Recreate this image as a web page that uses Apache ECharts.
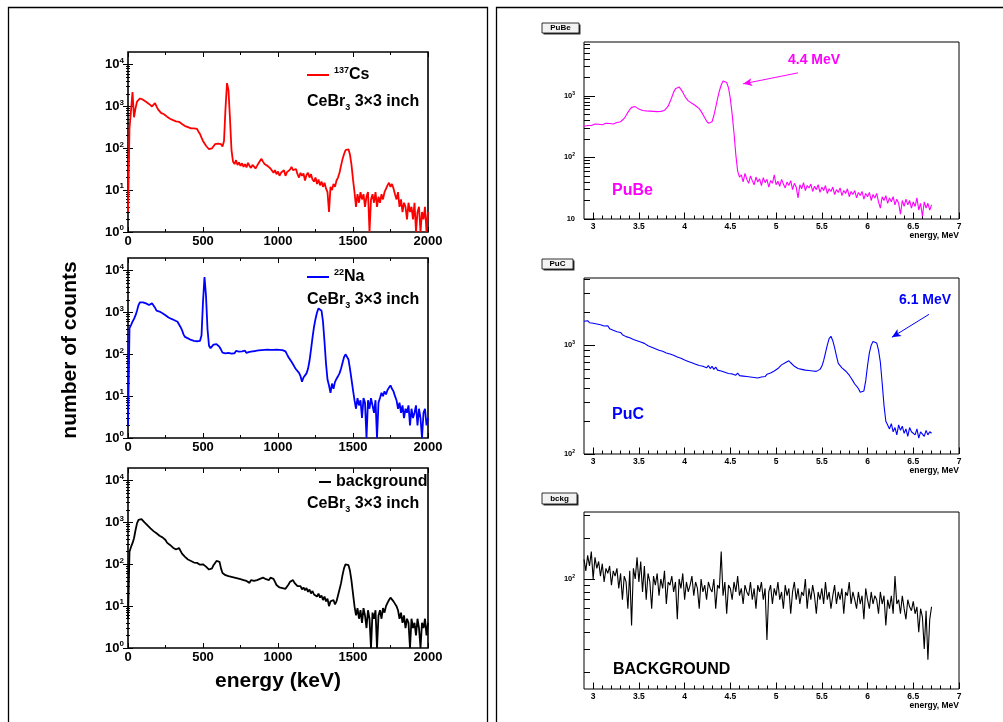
<!DOCTYPE html>
<html>
<head>
<meta charset="utf-8">
<script src="https://cdn.jsdelivr.net/npm/echarts@6.0.0/dist/echarts.min.js"></script>
<style>
  html, body { margin: 0; padding: 0; background: #fff; }
  #chart { width: 1003px; height: 722px; }
</style>
</head>
<body>
<div id="chart"></div>
<script>
const chart = echarts.init(document.getElementById('chart'));
const FONT = '"Liberation Sans", Arial, sans-serif';

// Left column: CeBr3 spectra, one value per 10 keV bin, 0 .. 2000 keV
const keVBinWidth = 10;
const cs137Counts = [
  3, 300, 800, 2200, 550, 900, 1300, 1450, 1550, 1500,
  1450, 1400, 1300, 1250, 1150, 1050, 1000, 1100, 1200, 1000,
  850, 780, 700, 720, 650, 600, 570, 540, 510, 490,
  470, 450, 440, 420, 430, 400, 380, 360, 340, 330,
  320, 310, 300, 310, 300, 320, 290, 250, 220, 180,
  150, 135, 115, 105, 95, 88, 100, 110, 125, 115,
  130, 120, 125, 110, 150, 900, 3600, 2400, 500, 90,
  48, 42, 52, 40, 46, 38, 44, 36, 42, 35,
  45, 38, 34, 40, 37, 33, 38, 44, 50, 56,
  48, 42, 45, 38, 40, 33, 30, 26, 30, 24,
  28, 22, 26, 24, 30, 22, 27, 25, 31, 36,
  30, 28, 32, 24, 20, 26, 22, 25, 17, 23,
  26, 20, 24, 18, 16, 20, 14, 18, 13, 16,
  12, 15, 11, 9, 3, 12, 10, 14, 12, 17,
  20, 26, 38, 55, 72, 90, 100, 95, 70, 40,
  18, 9, 4, 8, 5, 9, 6, 8, 4, 7,
  9, 1, 6, 8, 5, 9, 4, 7, 5, 8,
  6, 9, 10, 13, 15, 12, 14, 11, 8, 6,
  9, 4, 6, 3, 5, 4, 2, 5, 3, 4,
  2, 5, 1, 3, 4, 1, 3, 2, 4, 1,
  3
];
const na22Counts = [
  2, 420, 500, 600, 700, 850, 1100, 1500, 1750, 1800,
  1750, 1700, 1650, 1600, 1500, 1450, 1650, 1800, 1300, 1100,
  1080, 1050, 1000, 960, 920, 860, 800, 760, 720, 700,
  680, 650, 620, 600, 540, 450, 380, 300, 260, 250,
  240, 230, 220, 215, 210, 200, 205, 195, 210, 280,
  1800, 7000, 2500, 400, 160, 140, 150, 170, 180, 175,
  160, 150, 130, 110, 120, 105, 115, 108, 118, 104,
  112, 106, 120, 110, 116, 105, 118, 112, 122, 108,
  118, 114, 125, 118, 128, 120, 130, 124, 132, 126,
  135, 128, 138, 130, 136, 128, 134, 127, 135, 130,
  133, 128, 132, 126, 125, 118, 100, 85, 75, 66,
  58, 50, 44, 40, 36, 30, 22, 28, 30, 35,
  45, 70, 130, 250, 450, 700, 1000, 1250, 1300, 1100,
  600, 200, 60, 25, 18, 12, 20, 15, 22, 26,
  30, 35, 45, 62, 85, 100, 95, 75, 45, 25,
  14, 8, 5, 9, 6, 8, 3, 9, 7, 1,
  8, 5, 9, 6, 4, 8, 1, 7, 9, 12,
  10, 13, 11, 14, 16, 18, 15, 13, 10, 8,
  5, 7, 4, 6, 3, 5, 4, 6, 2, 5,
  3, 4, 6, 2, 5, 3, 1, 4, 5, 2,
  3
];
const bkgCounts = [
  5, 200, 260, 320, 420, 650, 950, 1150, 1250, 1200,
  1100, 1000, 930, 850, 780, 720, 680, 620, 580, 550,
  510, 480, 460, 440, 460, 380, 330, 310, 290, 270,
  250, 235, 225, 230, 245, 220, 180, 165, 150, 140,
  130, 125, 120, 118, 110, 105, 108, 100, 98, 95,
  100, 92, 88, 85, 75, 70, 80, 95, 105, 120,
  125, 115, 80, 62, 58, 55, 60, 52, 56, 50,
  54, 48, 52, 46, 50, 44, 48, 42, 45, 40,
  44, 36, 42, 38, 40, 37, 42, 40, 45, 50,
  48, 52, 44, 40, 42, 48, 50, 45, 38, 32,
  30, 28, 31, 27, 30, 26, 29, 33, 38, 40,
  42, 36, 33, 30, 28, 30, 25, 28, 24, 27,
  22, 25, 20, 23, 19, 21, 17, 20, 16, 18,
  14, 17, 13, 15, 10, 13, 12, 14, 11, 13,
  18, 25, 35, 55, 80, 100, 108, 95, 70, 40,
  20, 10, 6, 9, 5, 8, 4, 9, 6, 3,
  8, 5, 1, 7, 5, 8, 1, 6, 8, 5,
  9, 7, 10, 12, 14, 16, 15, 13, 14, 10,
  8, 5, 7, 4, 6, 3, 5, 4, 1, 5,
  3, 4, 2, 5, 3, 1, 4, 3, 5, 2,
  4
];

// Right column: one value per 0.02 MeV bin, 2.90 .. 6.70 MeV
const mevStart = 2.9;
const mevBinWidth = 0.02;
const pubeCounts = [
  320, 335, 330, 345, 330, 340, 350, 335, 345, 355,
  340, 350, 360, 345, 355, 365, 350, 360, 370, 375,
  380, 400, 430, 480, 540, 600, 650, 680, 670, 640,
  610, 600, 580, 590, 570, 580, 565, 575, 560, 570,
  555, 565, 560, 570, 580, 600, 680, 800, 950, 1150,
  1300, 1380, 1400, 1320, 1150, 1000, 900, 830, 790, 760,
  720, 690, 660, 620, 560, 500, 440, 390, 360, 345,
  380, 480, 650, 900, 1200, 1500, 1750, 1800, 1650, 1350,
  900, 500, 250, 110, 60, 48, 52, 40, 55, 44,
  38, 50, 42, 36, 48, 40, 45, 35, 47, 39,
  44, 33, 42, 38, 52, 36, 41, 34, 44, 37,
  32, 40, 35, 42, 30, 38, 33, 22, 36, 31,
  39, 29, 35, 32, 37, 28, 34, 30, 36, 27,
  33, 29, 35, 26, 31, 28, 33, 25, 30, 27,
  32, 24, 29, 26, 31, 23, 28, 25, 29, 22,
  27, 24, 28, 21, 26, 23, 27, 20, 25, 22,
  26, 19, 15, 23, 20, 24, 18, 22, 19, 23,
  17, 21, 18, 12, 20, 16, 21, 17, 20, 15,
  19, 16, 22, 14, 18, 11, 19, 15, 18, 14,
  17
];
const pucCounts = [
  1660, 1620, 1680, 1610, 1650, 1590, 1630, 1570, 1600, 1540,
  1560, 1500, 1480, 1510, 1420, 1450, 1370, 1400, 1330, 1300,
  1310, 1250, 1270, 1200, 1230, 1170, 1190, 1130, 1150, 1100,
  1120, 1070, 1090, 1040, 1050, 990, 1010, 960, 980, 930,
  950, 900, 920, 880, 890, 850, 870, 830, 850, 810,
  820, 780, 800, 760, 770, 730, 750, 710, 720, 690,
  700, 670, 690, 650, 670, 640, 660, 620, 650, 610,
  640, 600, 630, 590, 610, 580, 600, 565, 580, 550,
  570, 545, 560, 530, 555, 525, 545, 520, 540, 515,
  535, 510, 530, 505, 525, 500, 520, 510, 530, 515,
  540, 530, 555, 550, 580, 575, 610, 630, 660, 680,
  690, 710, 720, 690, 670, 640, 630, 610, 620, 600,
  610, 590, 605, 585, 600, 580, 595, 575, 590, 600,
  640, 720, 850, 1000, 1150, 1210, 1100, 950, 800, 680,
  660, 620, 600, 580, 560, 530, 500, 470, 440, 420,
  400, 370, 355, 380, 470, 650, 850, 1000, 1080, 1110,
  1050, 900, 700, 450, 280, 200, 185, 170, 190, 160,
  175, 150, 185, 165, 180, 155, 170, 145, 175, 160,
  165, 150, 170, 140, 160, 155, 145, 165, 150, 160,
  155
];
const bckgCounts = [
  140, 115, 150, 125, 160, 100, 145, 120, 135, 105,
  130, 95, 120, 110, 125, 90, 115, 105, 120, 85,
  110, 70, 105, 95, 60, 115, 45, 120, 100, 145,
  95, 135, 80, 125, 70, 110, 95, 60, 105, 90,
  110, 75, 100, 85, 115, 65, 95, 90, 105, 80,
  95, 50, 100, 85, 110, 70, 95, 80, 90, 105,
  75, 95, 85, 60, 100, 80, 90, 70, 95, 85,
  80, 100, 60, 90, 85, 160, 75, 95, 55, 90,
  85, 70, 95, 80, 105, 75, 85, 65, 90, 80,
  75, 95, 70, 85, 60, 90, 80, 95, 70, 85,
  35, 80, 90, 65, 85, 75, 95, 70, 80, 60,
  90, 75, 85, 55, 80, 95, 70, 85, 65, 80,
  75, 100, 60, 85, 70, 90, 75, 55, 80, 70,
  85, 65, 95, 70, 80, 60, 75, 90, 65, 80,
  70, 85, 55, 80, 75, 95, 65, 80, 70, 60,
  80, 65, 75, 50, 85, 70, 60, 80, 65, 75,
  70, 55, 80, 65, 75, 45, 70, 60, 75, 55,
  105, 65, 70, 55, 75, 60, 50, 70, 62, 58,
  68, 55, 62, 40, 60, 52, 30, 58, 25, 50,
  62
];

// Tick positions and labels
const keVTicks = [0, 500, 1000, 1500, 2000];
const keVMinorTicks = [250, 750, 1250, 1750];
const leftDecades = [1, 10, 100, 1000, 10000];
const mevTicks = [3, 3.5, 4, 4.5, 5, 5.5, 6, 6.5, 7];
const mevMinorTicks = [3.1, 3.2, 3.3, 3.4, 3.6, 3.7, 3.8, 3.9, 4.1, 4.2, 4.3, 4.4,
  4.6, 4.7, 4.8, 4.9, 5.1, 5.2, 5.3, 5.4, 5.6, 5.7, 5.8, 5.9, 6.1, 6.2, 6.3, 6.4,
  6.6, 6.7, 6.8, 6.9];

// 2..9 times each decade, used for the minor ticks of log axes
function logMinors(lo, hi) {
  const out = [];
  for (let d = 1; d < hi; d *= 10) {
    for (let k = 2; k <= 9; k++) {
      const v = k * d;
      if (v > lo && v < hi) out.push(v);
    }
  }
  return out;
}

function bins(counts, start, step) {
  return counts.map((c, i) => [+(start + i * step).toFixed(3), c]);
}

function powLabel(v, plainTen) {
  const e = Math.round(Math.log10(v));
  if (plainTen && e === 1) return '{b|10}';
  return '{b|10}{s|' + e + '}';
}

const grids = [];
const xAxes = [];
const yAxes = [];
const series = [];

function addPanel(p) {
  const gi = grids.length;
  grids.push({
    left: p.left, top: p.top, width: p.width, height: p.height,
    show: true, borderColor: '#000', borderWidth: p.border, backgroundColor: 'transparent'
  });

  const xIndex = xAxes.length;
  const yIndex = yAxes.length;
  const xSides = p.mirror ? ['bottom', 'top'] : ['bottom'];
  const ySides = p.mirror ? ['left', 'right'] : ['left'];
  const tickStyle = { color: '#000', width: 1 };

  xSides.forEach((side, s) => {
    xAxes.push({
      gridIndex: gi, type: 'value', position: side, min: p.xMin, max: p.xMax,
      axisLine: { show: false }, splitLine: { show: false },
      axisTick: { inside: true, length: p.xMajor, customValues: p.xTicks, lineStyle: tickStyle },
      axisLabel: s === 0 ? Object.assign({ customValues: p.xTicks, formatter: (v) => String(v) }, p.xLabel) : { show: false }
    });
    xAxes.push({
      gridIndex: gi, type: 'value', position: side, min: p.xMin, max: p.xMax,
      axisLine: { show: false }, splitLine: { show: false },
      axisTick: { inside: true, length: p.xMinor, customValues: p.xMinorTicks, lineStyle: tickStyle },
      axisLabel: { show: false }
    });
  });

  ySides.forEach((side, s) => {
    yAxes.push({
      gridIndex: gi, type: 'log', logBase: 10, position: side, min: p.yMin, max: p.yMax,
      axisLine: { show: false }, splitLine: { show: false },
      axisTick: { inside: true, length: p.yMajor, customValues: p.yTicks, lineStyle: tickStyle },
      axisLabel: s === 0 ? Object.assign({ customValues: p.yTicks }, p.yLabel) : { show: false }
    });
    yAxes.push({
      gridIndex: gi, type: 'log', logBase: 10, position: side, min: p.yMin, max: p.yMax,
      axisLine: { show: false }, splitLine: { show: false },
      axisTick: { inside: true, length: p.yMinor, customValues: logMinors(p.yMin, p.yMax), lineStyle: tickStyle },
      axisLabel: { show: false }
    });
  });

  const s = {
    name: p.name, type: 'line', xAxisIndex: xIndex, yAxisIndex: yIndex,
    data: p.data, showSymbol: false, symbol: 'none', clip: true, silent: true,
    lineStyle: { color: p.color, width: p.lineWidth }, itemStyle: { color: p.color }
  };
  if (p.arrow) {
    s.markLine = {
      silent: true, symbol: ['none', 'arrow'], symbolSize: [6, 9],
      lineStyle: { color: p.color, width: 1, type: 'solid' }, label: { show: false },
      data: [[{ coord: p.arrow[0] }, { coord: p.arrow[1] }]]
    };
  }
  series.push(s);
}

// Left column axis styling
const leftXLabel = { fontFamily: FONT, fontSize: 13, fontWeight: 'bold', color: '#000', margin: 3 };
const leftYLabel = {
  margin: 4, formatter: (v) => powLabel(v, false),
  rich: {
    b: { fontFamily: FONT, fontSize: 13, fontWeight: 'bold', color: '#000', lineHeight: 16 },
    s: { fontFamily: FONT, fontSize: 8, fontWeight: 'bold', color: '#000', verticalAlign: 'top' }
  }
};
const leftCommon = {
  left: 128, width: 300, height: 180, border: 1.6, mirror: true,
  xMin: 0, xMax: 2000, xTicks: keVTicks, xMinorTicks: keVMinorTicks, xMajor: 5, xMinor: 3,
  yMin: 1, yMax: 20000, yTicks: leftDecades, yMajor: 5, yMinor: 2,
  xLabel: leftXLabel, yLabel: leftYLabel, lineWidth: 1.8
};

addPanel(Object.assign({}, leftCommon, { top: 52, name: 'cs137', color: '#ff0000', data: bins(cs137Counts, 0, keVBinWidth) }));
addPanel(Object.assign({}, leftCommon, { top: 258, name: 'na22', color: '#0000ff', data: bins(na22Counts, 0, keVBinWidth) }));
addPanel(Object.assign({}, leftCommon, { top: 468, name: 'background', color: '#000000', data: bins(bkgCounts, 0, keVBinWidth) }));

// Right column (ROOT style) axis styling
const rightXLabel = { fontFamily: FONT, fontSize: 8.5, fontWeight: 'bold', color: '#000', margin: 3 };
const rightYLabel = {
  margin: 9, formatter: (v) => powLabel(v, true),
  rich: {
    b: { fontFamily: FONT, fontSize: 7.5, fontWeight: 'bold', color: '#000', lineHeight: 10 },
    s: { fontFamily: FONT, fontSize: 5, fontWeight: 'bold', color: '#000', verticalAlign: 'top' }
  }
};
const rightCommon = {
  left: 584, width: 375, border: 1, mirror: false,
  xMin: 2.9, xMax: 7, xTicks: mevTicks, xMinorTicks: mevMinorTicks, xMajor: 6.5, xMinor: 3.5,
  yMajor: 11, yMinor: 6, xLabel: rightXLabel, yLabel: rightYLabel, lineWidth: 1.1
};

addPanel(Object.assign({}, rightCommon, {
  top: 42, height: 177, yMin: 10, yMax: 7500, yTicks: [10, 100, 1000],
  name: 'PuBe', color: '#ff00ff', data: bins(pubeCounts, mevStart, mevBinWidth),
  arrow: [[5.24, 2365], [4.64, 1567]]
}));
addPanel(Object.assign({}, rightCommon, {
  top: 278, height: 176, yMin: 100, yMax: 4150, yTicks: [100, 1000],
  name: 'PuC', color: '#0000ff', data: bins(pucCounts, mevStart, mevBinWidth),
  arrow: [[6.672, 1923], [6.267, 1184]]
}));
addPanel(Object.assign({}, rightCommon, {
  top: 512, height: 177, yMin: 15.1, yMax: 316, yTicks: [100],
  name: 'bckg', color: '#000000', data: bins(bckgCounts, mevStart, mevBinWidth)
}));

// Legends of the left column
const legendRich = {
  s: { fontFamily: FONT, fontSize: 9, fontWeight: 'bold', color: '#000', verticalAlign: 'top' },
  b: { fontFamily: FONT, fontSize: 16, fontWeight: 'bold', color: '#000', lineHeight: 18 }
};
const legendLabels = { cs137: '{s|137}{b|Cs}', na22: '{s|22}{b|Na}', background: '{b|background}' };
function legendAt(name, left, top, itemWidth) {
  return {
    data: [name], left: left, top: top, padding: 0, icon: 'rect',
    itemWidth: itemWidth, itemHeight: 2, itemGap: 0, selectedMode: false,
    formatter: (n) => legendLabels[n], textStyle: { rich: legendRich }
  };
}

const ceBr = '{b|CeBr}{sub|3}{b| 3×3 inch}';
const ceBrRich = {
  b: { fontFamily: FONT, fontSize: 16, fontWeight: 'bold', fill: '#000', lineHeight: 20 },
  sub: { fontFamily: FONT, fontSize: 9, fontWeight: 'bold', fill: '#000', verticalAlign: 'bottom' }
};

function text(x, y, t, size, color, align) {
  return {
    type: 'text', x: x, y: y, silent: true,
    style: { text: t, fontFamily: FONT, fontSize: size, fontWeight: 'bold', fill: color, align: align || 'left', verticalAlign: 'middle' }
  };
}
function tagBox(x, y, w, h, label) {
  return {
    type: 'group', x: x, y: y, silent: true,
    children: [
      { type: 'rect', shape: { x: 1.5, y: 1.5, width: w, height: h }, style: { fill: '#333' } },
      { type: 'rect', shape: { x: 0, y: 0, width: w, height: h }, style: { fill: '#f2f2f2', stroke: '#000', lineWidth: 0.8 } },
      { type: 'text', x: w / 2, y: h / 2, style: { text: label, fontFamily: FONT, fontSize: 8, fontWeight: 'bold', fill: '#000', align: 'center', verticalAlign: 'middle' } }
    ]
  };
}

const yTitle = text(70, 350, 'number of counts', 21, '#000', 'center');
yTitle.rotation = Math.PI / 2;

const graphics = [
  // panel frames
  { type: 'rect', silent: true, shape: { x: 8.5, y: 7.5, width: 479, height: 730 }, style: { fill: 'none', stroke: '#000', lineWidth: 1.3 } },
  { type: 'rect', silent: true, shape: { x: 496.5, y: 7.5, width: 520, height: 730 }, style: { fill: 'none', stroke: '#000', lineWidth: 1.3 } },
  // left column texts
  yTitle,
  text(278, 681, 'energy (keV)', 21, '#000', 'center'),
  { type: 'text', x: 307, y: 102, silent: true, style: { text: ceBr, rich: ceBrRich, verticalAlign: 'middle' } },
  { type: 'text', x: 307, y: 300, silent: true, style: { text: ceBr, rich: ceBrRich, verticalAlign: 'middle' } },
  { type: 'text', x: 307, y: 504, silent: true, style: { text: ceBr, rich: ceBrRich, verticalAlign: 'middle' } },
  // right column texts
  tagBox(542, 23, 37, 10, 'PuBe'),
  tagBox(542, 259, 31, 10, 'PuC'),
  tagBox(542, 493, 35, 11, 'bckg'),
  text(788, 60, '4.4 MeV', 14, '#ff00ff'),
  text(899, 300, '6.1 MeV', 14, '#0000ff'),
  text(612, 191, 'PuBe', 16, '#ff00ff'),
  text(612, 415, 'PuC', 16, '#0000ff'),
  text(613, 670, 'BACKGROUND', 16, '#000'),
  text(959, 236, 'energy, MeV', 8.5, '#000', 'right'),
  text(959, 471, 'energy, MeV', 8.5, '#000', 'right'),
  text(959, 706, 'energy, MeV', 8.5, '#000', 'right')
];

chart.setOption({
  animation: false,
  backgroundColor: '#fff',
  grid: grids,
  xAxis: xAxes,
  yAxis: yAxes,
  legend: [
    legendAt('cs137', 307, 66, 22),
    legendAt('na22', 307, 268, 22),
    legendAt('background', 319, 474, 12)
  ],
  graphic: graphics,
  series: series
});
</script>
</body>
</html>
